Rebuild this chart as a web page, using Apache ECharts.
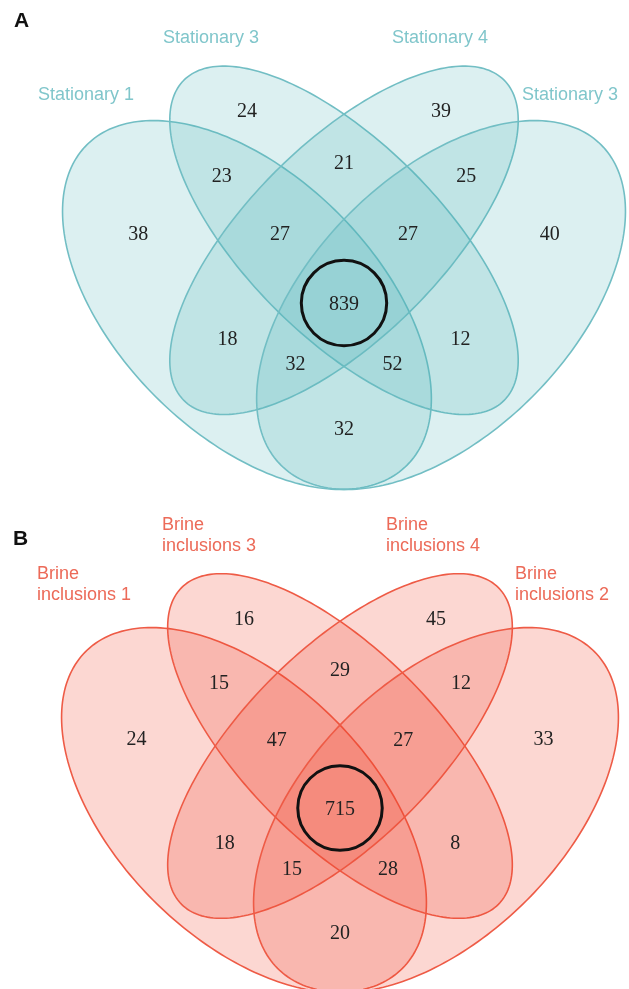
<!DOCTYPE html>
<html><head><meta charset="utf-8">
<script src="https://cdn.jsdelivr.net/npm/echarts@6/dist/echarts.min.js"></script>
<style>html,body{margin:0;padding:0;background:#fff}#c{width:629px;height:989px}</style>
</head><body><div id="c"></div><script>
// ---- data ----
// region order: L, NL, L∩NL, NL∩NR, NR, NR∩R, R, L∩NL∩NR, NL∩NR∩R, all, L∩NR, NL∩R, L∩NR∩R, L∩NL∩R, L∩R
const regionKeys = ['L','NL','L_NL','NL_NR','NR','NR_R','R','L_NL_NR','NL_NR_R','ALL','L_NR','NL_R','L_NR_R','L_NL_R','L_R'];
const valuesA = [38, 24, 23, 21, 39, 25, 40, 27, 27, 839, 18, 12, 32, 52, 32];
const valuesB = [24, 16, 15, 29, 45, 12, 33, 47, 27, 715, 18, 8, 15, 28, 20];
const setNamesA = ['Stationary 1', 'Stationary 3', 'Stationary 4', 'Stationary 3'];
const setNamesB = ['Brine\ninclusions 1', 'Brine\ninclusions 3', 'Brine\ninclusions 4', 'Brine\ninclusions 2'];
const panelLetters = ['A', 'B'];

// ---- layout (normalized venn coordinates) ----
const regionPos = [[0.182,0.579],[0.35,0.768],[0.311,0.668],[0.5,0.688],[0.65,0.768],[0.689,0.668],[0.818,0.579],
  [0.401,0.578],[0.599,0.578],[0.5,0.47],[0.32,0.417],[0.68,0.417],[0.425,0.377],[0.575,0.377],[0.5,0.277]];
const ellipses = [
  {cx:0.35, cy:0.47, a:0.35, b:0.20, rot:135},
  {cx:0.50, cy:0.57, a:0.35, b:0.15, rot:135},
  {cx:0.50, cy:0.57, a:0.35, b:0.15, rot:45},
  {cx:0.65, cy:0.47, a:0.35, b:0.20, rot:45}
];
const circleMark = {cx:0.5, cy:0.473, r:0.066};
const panels = [
  {cx:344, cy:305, s:647, top:0, bottom:500,
   fill:'rgba(80,178,186,0.2)', stroke:'#72bec4', text:'#80c6cb', values:valuesA, names:setNamesA,
   letterPos:[14,23], namePos:[[38,95],[163,38],[392,38],[522,95]]},
  {cx:340, cy:810, s:640, top:500, bottom:989,
   fill:'rgba(240,72,52,0.22)', stroke:'#ee5b46', text:'#ec6a58', values:valuesB, names:setNamesB,
   letterPos:[13,541], namePos:[[37,585],[162,536],[386,536],[515,585]]}
];

const W = 629;
const grids = [], xAxes = [], yAxes = [], series = [], graphics = [];
panels.forEach((p, k) => {
  grids.push({left:0, width:W, top:p.top, height:p.bottom - p.top, containLabel:false});
  xAxes.push({type:'value', gridIndex:k, min:0.5 - p.cx / p.s, max:0.5 + (W - p.cx) / p.s, show:false});
  yAxes.push({type:'value', gridIndex:k, min:0.47 - (p.bottom - p.cy) / p.s, max:0.47 + (p.cy - p.top) / p.s, show:false});
  series.push({
    type:'custom', xAxisIndex:k, yAxisIndex:k, clip:false, silent:true,
    data: ellipses.map((e, i) => [e.cx, e.cy, i]),
    renderItem: function (params, api) {
      const e = ellipses[api.value(2)];
      const th = e.rot * Math.PI / 180, c = Math.cos(th), s = Math.sin(th);
      const pts = [];
      for (let j = 0; j < 240; j++) {
        const t = j / 240 * Math.PI * 2;
        const x = e.cx + e.a * Math.cos(t) * c - e.b * Math.sin(t) * s;
        const y = e.cy + e.a * Math.cos(t) * s + e.b * Math.sin(t) * c;
        pts.push(api.coord([x, y]));
      }
      return {type:'polygon', shape:{points:pts}, style:{fill:p.fill, stroke:p.stroke, lineWidth:1.6}};
    }
  });
  series.push({
    type:'custom', xAxisIndex:k, yAxisIndex:k, clip:false, silent:true, z:3,
    data:[[circleMark.cx, circleMark.cy, circleMark.r]],
    renderItem: function (params, api) {
      const c = api.coord([api.value(0), api.value(1)]);
      const r = api.size([api.value(2), 0])[0];
      return {type:'circle', shape:{cx:c[0], cy:c[1], r:r}, style:{fill:'none', stroke:'#111', lineWidth:3}};
    }
  });
  series.push({
    type:'scatter', xAxisIndex:k, yAxisIndex:k, silent:true, z:4,
    symbolSize:1, itemStyle:{color:'rgba(0,0,0,0)'},
    data: regionPos.map((q, i) => ({name:regionKeys[i], value:[q[0], q[1], p.values[i]]})),
    label:{show:true, position:'inside', formatter:(d) => String(d.value[2]),
      fontFamily:'Liberation Serif', fontSize:20, color:'#222', opacity:1}
  });
  graphics.push({type:'text', left:p.letterPos[0], top:p.letterPos[1] - 12,
    style:{text:panelLetters[k], font:'bold 21px Liberation Sans', fill:'#111'}});
  p.names.forEach((n, i) => {
    graphics.push({type:'text', x:p.namePos[i][0], y:p.namePos[i][1],
      style:{text:n, fontFamily:'Liberation Sans', fontSize:18, lineHeight:21, fill:p.text,
        align:'left', verticalAlign:'middle'}});
  });
});

const chart = echarts.init(document.getElementById('c'), null, {renderer:'canvas'});
chart.setOption({animation:false, backgroundColor:'#fff', grid:grids, xAxis:xAxes, yAxis:yAxes, series:series, graphic:graphics});
</script></body></html>
